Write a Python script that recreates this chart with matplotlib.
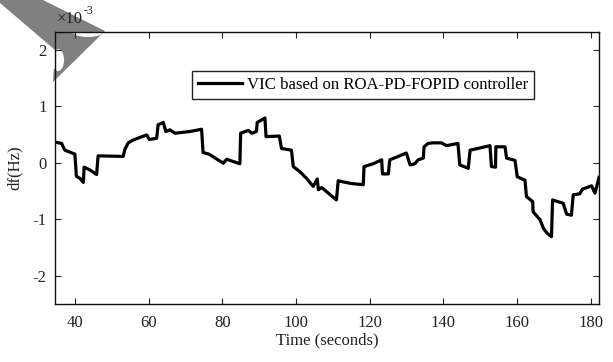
import numpy as np
import matplotlib
matplotlib.use('Agg')
import matplotlib.pyplot as plt
from matplotlib.patches import Polygon, Ellipse

# frequency deviation trace (y in units of 1e-3 Hz)
time_s = [34.8, 36.4, 36.8, 37.3, 40.0, 40.4, 41.4, 42.3, 42.5, 44.1, 45.9, 46.3, 53.1, 53.6,
          54.5, 55.8, 59.5, 60.2, 62.2, 62.6, 64.0, 64.7, 65.8, 67.2, 71.2, 74.4, 74.8, 76.4,
          80.3, 81.2, 84.8, 85.0, 87.1, 88.0, 89.3, 89.5, 91.6, 91.9, 95.5, 96.1, 98.8, 99.3,
          101.1, 102.9, 104.7, 105.8, 106.1, 107.0, 111.0, 111.5, 112.8, 115.1, 118.3, 118.5,
          121.0, 123.3, 123.5, 125.1, 125.5, 128.2, 130.0, 131.0, 132.3, 133.2, 134.6, 134.8,
          135.9, 137.3, 139.5, 140.9, 144.0, 144.5, 146.8, 147.3, 152.7, 153.1, 154.2, 154.3,
          156.8, 157.2, 159.5, 160.1, 162.2, 162.6, 164.3, 164.4, 166.3, 167.2, 168.1, 169.4,
          169.7, 172.6, 173.5, 174.8, 175.3, 177.1, 177.8, 180.3, 181.2, 181.8, 182.3]
df_e3 = [0.36, 0.34, 0.28, 0.22, 0.15, -0.24, -0.28, -0.35, -0.08, -0.13, -0.21, 0.12, 0.11, 0.24,
         0.35, 0.40, 0.49, 0.41, 0.43, 0.67, 0.71, 0.55, 0.58, 0.52, 0.55, 0.59, 0.18, 0.15,
         -0.01, 0.06, -0.02, 0.52, 0.57, 0.52, 0.55, 0.71, 0.79, 0.46, 0.47, 0.25, 0.22, -0.07,
         -0.16, -0.28, -0.42, -0.29, -0.48, -0.44, -0.66, -0.32, -0.34, -0.37, -0.39, -0.07,
         -0.02, 0.05, -0.20, -0.20, 0.05, 0.12, 0.17, -0.04, -0.02, 0.05, 0.08, 0.28,
         0.34, 0.35, 0.35, 0.30, 0.34, -0.04, -0.10, 0.22, 0.30, -0.07, -0.08, 0.28,
         0.28, 0.08, 0.04, -0.25, -0.31, -0.60, -0.69, -0.87, -1.01, -1.16, -1.24, -1.31,
         -0.66, -0.72, -0.91, -0.93, -0.57, -0.55, -0.47, -0.41, -0.54, -0.39, -0.26]

x_ticks = [40, 60, 80, 100, 120, 140, 160, 180]
y_ticks = [-2, -1, 0, 1, 2]
label = 'VIC based on ROA-PD-FOPID controller'

plt.rcParams['font.family'] = ['Liberation Serif', 'DejaVu Serif']
plt.rcParams['axes.unicode_minus'] = False

W, H = 613, 362
fig = plt.figure(figsize=(W / 100, H / 100), dpi=100)
ax = fig.add_axes([55 / W, 1 - 304 / H, 544 / W, 272 / H])
ax.set_facecolor('none')

ax.plot(time_s, df_e3, color='black', lw=2.3, label=label)

ax.set_xlim(34.6, 182.3)
ax.set_ylim(-2.5, 2.31)
ax.set_xticks(x_ticks)
ax.set_yticks(y_ticks)
ax.tick_params(direction='in', top=True, right=True, length=4, width=0.8,
               labelsize=12, colors='#222222')
ax.tick_params(axis='x', pad=8)
ax.tick_params(axis='y', pad=6)
for sp in ax.spines.values():
    sp.set_linewidth(1.0)
    sp.set_color('#111111')

ax.set_xlabel('Time (seconds)', fontsize=12, color='#222222', labelpad=1)
ax.set_ylabel('df(Hz)', fontsize=12, color='#222222', labelpad=7)
fig.text(57 / W, 1 - 19 / H, '\u00d710', fontsize=12, color='#222222', va='center', ha='left')
fig.text(84 / W, 1 - 11 / H, '-3', fontsize=8.5, color='#222222', va='center', ha='left')

leg = ax.legend(loc='upper left', bbox_to_anchor=(0.252, 0.857), borderaxespad=0,
                fancybox=False, framealpha=1, edgecolor='#222222', fontsize=12.1,
                handlelength=2.6, handletextpad=0.3, borderpad=0.35)
leg.get_frame().set_linewidth(1.0)

# grey page-corner smudge in the top left of the scan
to_fig = lambda p: (p[0] / W, 1 - p[1] / H)
corner = [(0, 0), (43, 0), (105, 31), (53, 82), (55, 50), (0, 3)]
fig.patches.append(Polygon([to_fig(p) for p in corner], closed=True, transform=fig.transFigure,
                           facecolor='#808080', edgecolor='none', zorder=-2))
fig.patches.append(Ellipse(to_fig((58, 60)), 12 / W, 22 / H, transform=fig.transFigure,
                           facecolor='white', edgecolor='none', zorder=-1))
t = np.linspace(0, np.pi, 30)
bite = [to_fig((88 + 15 * np.cos(a), 32 + 5 * np.sin(a))) for a in t]
fig.patches.append(Polygon(bite, closed=True, transform=fig.transFigure,
                           facecolor='white', edgecolor='none', zorder=-1))

fig.savefig('out.png', dpi=100)
